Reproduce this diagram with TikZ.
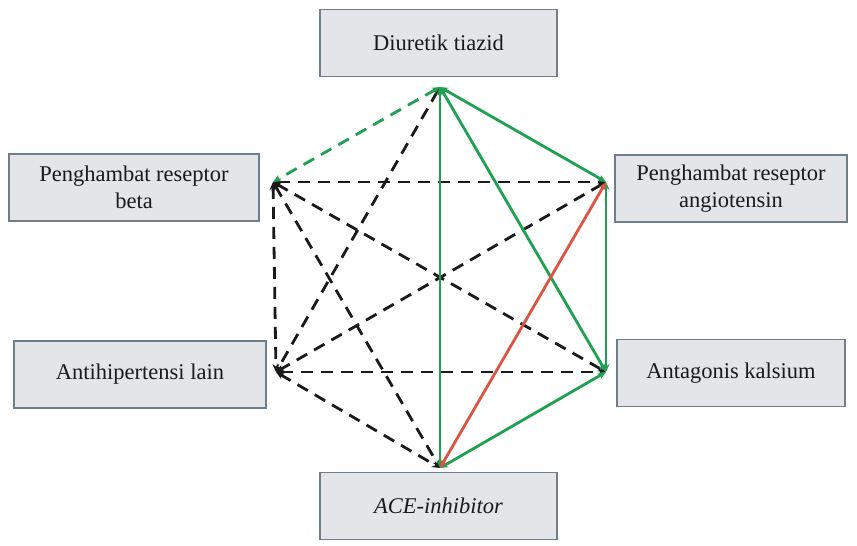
\documentclass[tikz,border=0pt]{standalone}
\usepackage{fontspec}
\setmainfont{Liberation Serif}
\usetikzlibrary{arrows.meta}
\definecolor{boxfill}{HTML}{E4E5E8}
\definecolor{boxline}{HTML}{6F7E8C}
\definecolor{lgreen}{HTML}{1FA152}
\definecolor{lred}{HTML}{DC5443}
\definecolor{ldark}{HTML}{1A1A1A}
\tikzset{
  drug/.style={draw=boxline, line width=1.5pt, fill=boxfill, text=ldark,
    minimum width=#1, minimum height=67pt, inner sep=0pt, align=center,
    font=\fontsize{22.5}{27}\selectfont},
  link/.style={line width=2.8pt, {Stealth[length=8pt,width=7pt]}-{Stealth[length=8pt,width=7pt]}},
  gsolid/.style={link, lgreen},
  rsolid/.style={link, lred},
  gdash/.style={link, lgreen, dash pattern=on 12pt off 8pt},
  kdash/.style={link, ldark, dash pattern=on 12pt off 8pt},
}
\begin{document}
\begin{tikzpicture}[x=1pt,y=-1pt]
\useasboundingbox (0,0) rectangle (857,546);
\fill[white] (0,0) rectangle (857,546);
% boxes
\node[drug=237pt] (dt) at (438.5,43) {Diuretik tiazid};
\node[drug=250pt] (bb) at (134,187.5) {Penghambat reseptor\\beta};
\node[drug=232pt] (arb) at (731,188.5) {Penghambat reseptor\\angiotensin};
\node[drug=252pt] (al) at (140,374.5) {Antihipertensi lain};
\node[drug=228pt] (ak) at (731,373) {Antagonis kalsium};
\node[drug=237pt] (ace) at (438.5,506) {\itshape ACE-inhibitor};
% vertices
\coordinate (T) at (440,87);
\coordinate (UL) at (273,182);
\coordinate (UR) at (606,182);
\coordinate (LL) at (276,372);
\coordinate (LR) at (606,372);
\coordinate (B) at (440,468);
% black dashed
\draw[kdash] (T) -- (LL);
\draw[kdash] (UL) -- (UR);
\draw[kdash] (UL) -- (LL);
\draw[kdash] (UL) -- (LR);
\draw[kdash] (UL) -- (B);
\draw[kdash] (UR) -- (LL);
\draw[kdash] (LL) -- (LR);
\draw[kdash] (LL) -- (B);
% green dashed
\draw[gdash] (T) -- (UL);
% green solid
\draw[gsolid] (T) -- (B);
\draw[gsolid] (T) -- (UR);
\draw[gsolid] (T) -- (LR);
\draw[gsolid] (UR) -- (LR);
\draw[gsolid] (LR) -- (B);
% red solid
\draw[rsolid] (UR) -- (B);
\end{tikzpicture}
\end{document}
